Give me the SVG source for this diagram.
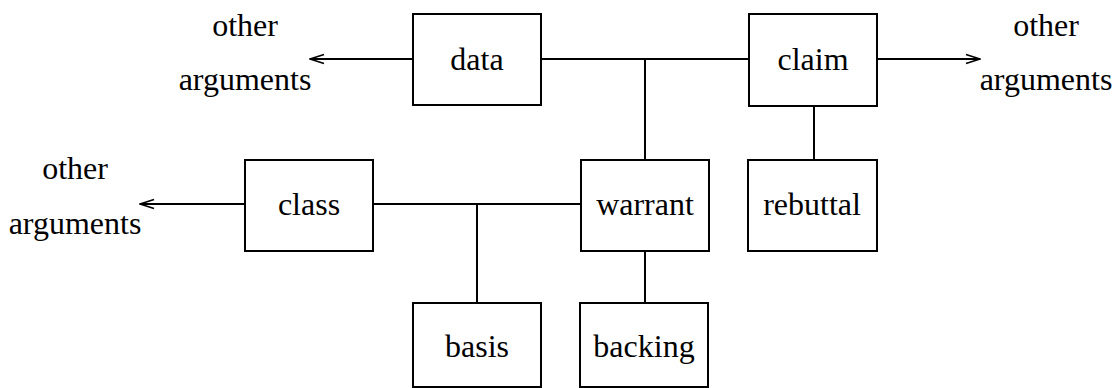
<svg xmlns="http://www.w3.org/2000/svg" width="1119" height="388" viewBox="0 0 1119 388">
<defs>
<style>
.box{fill:#fff;stroke:#000;stroke-width:2}
.ln{fill:none;stroke:#000;stroke-width:2}
.t{font-family:'Liberation Serif','Times New Roman','DejaVu Serif',serif;font-size:32px;fill:#000;text-anchor:middle}
</style>
<marker id="arr" viewBox="0 0 16 12" refX="15" refY="6" markerWidth="16" markerHeight="12" markerUnits="userSpaceOnUse" orient="auto">
<path d="M1,1.5 L15,6 L1,10.5" fill="none" stroke="#000" stroke-width="1.8"/>
</marker>
</defs>
<rect width="1119" height="388" fill="#fff"/>
<g id="connectors">
<line class="ln" x1="541" y1="59" x2="749" y2="59"/>
<line class="ln" x1="645" y1="59" x2="645" y2="160"/>
<line class="ln" x1="814" y1="106" x2="814" y2="160"/>
<line class="ln" x1="373" y1="204" x2="581" y2="204"/>
<line class="ln" x1="477" y1="204" x2="477" y2="303"/>
<line class="ln" x1="645" y1="251" x2="645" y2="303"/>
<line class="ln" x1="413" y1="59" x2="310" y2="59" marker-end="url(#arr)"/>
<line class="ln" x1="877" y1="59" x2="980" y2="59" marker-end="url(#arr)"/>
<line class="ln" x1="245" y1="204" x2="140" y2="204" marker-end="url(#arr)"/>
</g>
<g id="data"><rect class="box" x="413" y="14" width="128" height="91"/><text class="t" x="477" y="70" font-family="Liberation Serif, serif">data</text></g>
<g id="claim"><rect class="box" x="749" y="14" width="128" height="92"/><text class="t" x="813" y="70" font-family="Liberation Serif, serif">claim</text></g>
<g id="class"><rect class="box" x="245" y="160" width="128" height="91"/><text class="t" x="309" y="215" font-family="Liberation Serif, serif">class</text></g>
<g id="warrant"><rect class="box" x="581" y="160" width="128" height="91"/><text class="t" x="645" y="215" font-family="Liberation Serif, serif">warrant</text></g>
<g id="rebuttal"><rect class="box" x="748" y="160" width="129" height="91"/><text class="t" x="812" y="215" font-family="Liberation Serif, serif">rebuttal</text></g>
<g id="basis"><rect class="box" x="413" y="303" width="128" height="84"/><text class="t" x="477" y="357" font-family="Liberation Serif, serif">basis</text></g>
<g id="backing"><rect class="box" x="580" y="303" width="128" height="84"/><text class="t" x="644" y="357" font-family="Liberation Serif, serif">backing</text></g>
<g id="labels">
<text class="t" x="245" y="36" font-family="Liberation Serif, serif">other</text>
<text class="t" x="245" y="90" font-family="Liberation Serif, serif">arguments</text>
<text class="t" x="1046" y="36" font-family="Liberation Serif, serif">other</text>
<text class="t" x="1046" y="90" font-family="Liberation Serif, serif">arguments</text>
<text class="t" x="75" y="179" font-family="Liberation Serif, serif">other</text>
<text class="t" x="75" y="234" font-family="Liberation Serif, serif">arguments</text>
</g>
</svg>
